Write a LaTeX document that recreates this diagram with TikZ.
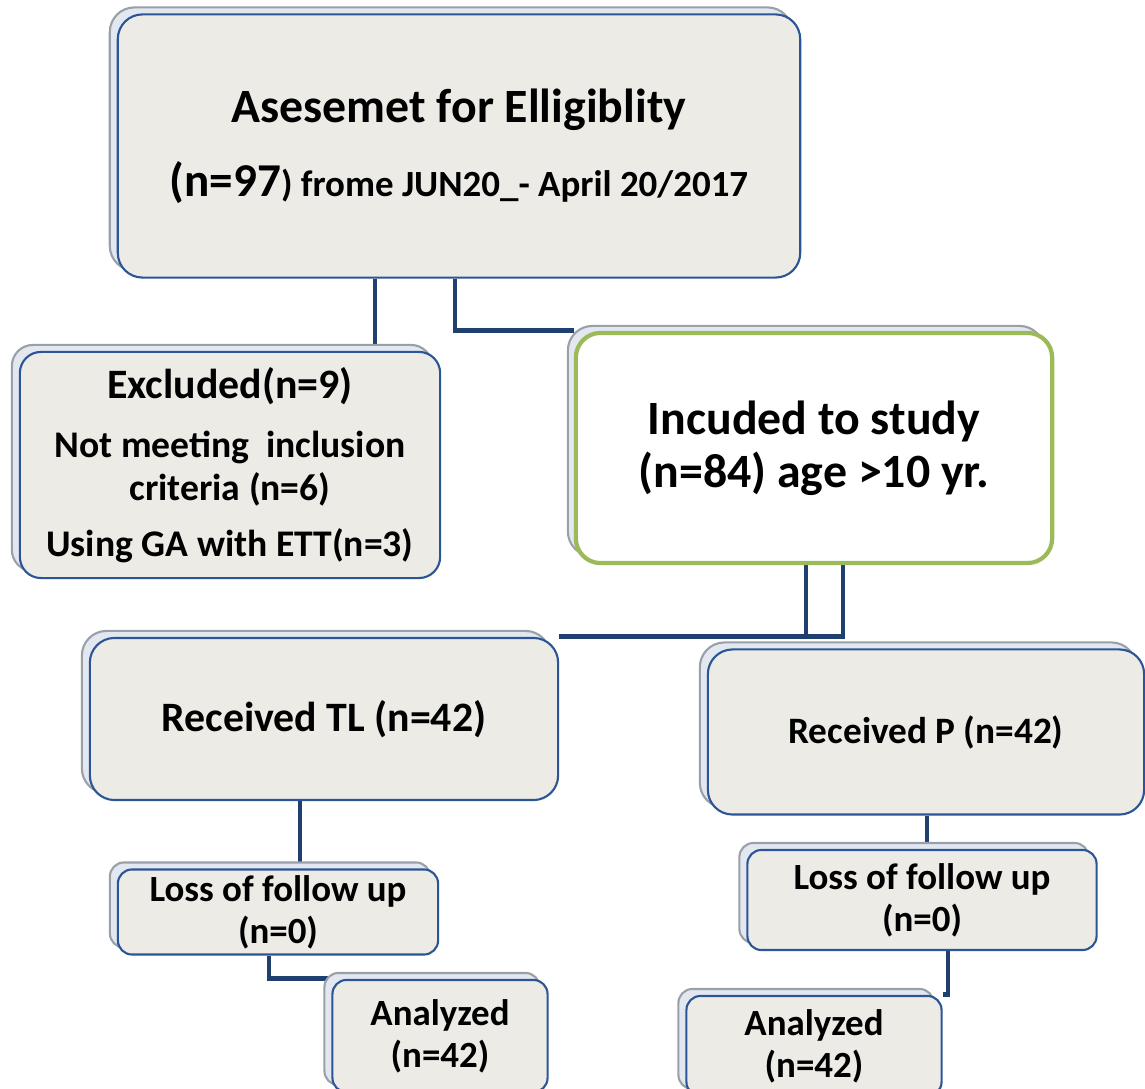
\documentclass[tikz,border=0pt]{standalone}
\usepackage{fontspec}
\setmainfont{Carlito}
\usepackage{tikz}
\usetikzlibrary{shadows,backgrounds}

\definecolor{boxfill}{HTML}{ECEBE5}
\definecolor{boxline}{HTML}{2B5597}
\definecolor{panelfill}{HTML}{E2E7F0}
\definecolor{panelline}{HTML}{9AA0A8}
\definecolor{linkblue}{HTML}{1F3F6F}
\definecolor{okgreen}{HTML}{9BBB59}

\begin{document}
\begin{tikzpicture}[
  x=0.01cm, y=-0.01cm,
  box/.style={draw=boxline, fill=boxfill, line width=0.6pt, rounded corners=7pt,
    align=center, inner sep=0pt, font=\bfseries,
    general shadow={shadow xshift=-0.08cm, shadow yshift=0.07cm,
      fill=panelfill, draw=panelline, line width=0.6pt}},
  goodbox/.style={box, draw=okgreen, fill=white, line width=1.2pt},
  bigtext/.style={font=\bfseries\fontsize{13.6}{15}\selectfont},
  midtext/.style={font=\bfseries\fontsize{10.7}{12}\selectfont},
  smalltext/.style={font=\bfseries\fontsize{10.5}{12}\selectfont},
  link/.style={draw=linkblue, line width=1.4pt}
]
  \useasboundingbox (0,0) rectangle (1145,1089);

  % screening
  \node[box, bigtext, minimum width=6.82cm, minimum height=2.63cm] (assess) at (459,146)
    {Asesemet for Elligiblity\\[6pt]
     {\fontsize{13.4}{16}\selectfont (n=97}{\fontsize{10.5}{16}\selectfont ) frome JUN20\_- April 20/2017}};

  % exclusion and inclusion
  \node[box, midtext, minimum width=4.2cm, minimum height=2.26cm, rounded corners=6pt] (excl) at (230,465)
    {{\fontsize{11.9}{12}\selectfont Excluded(n=9)}\\[5pt]
     Not meeting\ \ inclusion\\ criteria (n=6)\\[4pt]
     Using GA with ETT(n=3)};
  \node[goodbox, bigtext, minimum width=4.76cm, minimum height=2.3cm] (incl) at (814,448)
    {Incuded to study\\ (n=84) age >10 yr.};

  % arms
  \node[box, minimum width=4.68cm, minimum height=1.62cm] (tl) at (324,719)
    {\fontsize{11.9}{14}\selectfont Received TL (n=42)};
  \node[box, minimum width=4.36cm, minimum height=1.65cm] (p) at (926,732)
    {\fontsize{10.6}{14}\selectfont Received P (n=42)};

  % follow up
  \node[box, smalltext, minimum width=3.2cm, minimum height=0.85cm, rounded corners=4pt] (loss1) at (278,912)
    {Loss of follow up\\ (n=0)};
  \node[box, smalltext, minimum width=3.49cm, minimum height=1.0cm, rounded corners=4pt] (loss2) at (922,900)
    {Loss of follow up\\ (n=0)};

  % analysis
  \node[box, smalltext, minimum width=2.15cm, minimum height=1.12cm, rounded corners=4pt] (ana1) at (440,1036)
    {Analyzed\\ (n=42)};
  \node[box, smalltext, minimum width=2.55cm, minimum height=1.0cm, rounded corners=4pt] (ana2) at (814,1046)
    {Analyzed\\ (n=42)};

  % connectors
  \begin{scope}[on background layer]
    \draw[link] (375,0 |- assess.south) -- (375,0 |- excl.north);
    \draw[link] (455,0 |- assess.south) |- (incl.north west);
    \draw[link] (806,0 |- incl.south) -- (806,0 |- tl.north);
    \draw[link] (843,0 |- incl.south) |- (tl.north east);
    \draw[link] (300,0 |- tl.south) -- (300,0 |- loss1.north);
    \draw[link] (927,0 |- p.south) -- (927,0 |- loss2.north);
    \draw[link] (269,0 |- loss1.south) |- (ana1.north west);
    \draw[link] (948,0 |- loss2.south) |- (ana2.north east);
  \end{scope}
\end{tikzpicture}
\end{document}
